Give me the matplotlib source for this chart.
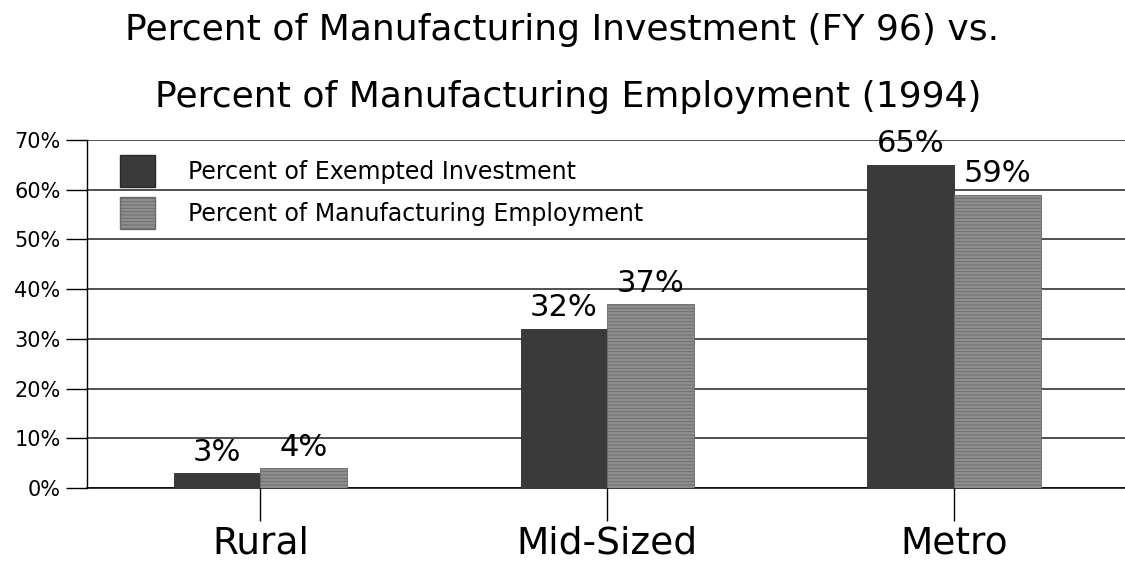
import numpy as np
import matplotlib.pyplot as plt
from matplotlib.patches import Patch

plt.rcParams['font.family'] = ['DejaVu Sans']
plt.rcParams['hatch.linewidth'] = 0.6

# data
categories = ["Rural", "Mid-Sized", "Metro"]
investment = [3, 32, 65]
employment = [4, 37, 59]
series_names = ["Percent of Exempted Investment", "Percent of Manufacturing Employment"]
yticks = [0, 10, 20, 30, 40, 50, 60, 70]

dark = "#3a3a3a"
light = "#8e8e8e"

fig = plt.figure(figsize=(11.25, 5.71), dpi=100)
ax = fig.add_axes([0.0773, 0.1454, 0.925, 0.6094])

x = np.arange(len(categories))
w = 0.25
b1 = ax.bar(x - w / 2, investment, w, color=dark, edgecolor="#2a2a2a", linewidth=0.6, zorder=3)
b2 = ax.bar(x + w / 2, employment, w, color=light, edgecolor="#6a6a6a", linewidth=0.6,
            hatch="-----", zorder=3)

for bars, vals in [(b1, investment), (b2, employment)]:
    for r, v in zip(bars, vals):
        ax.text(r.get_x() + r.get_width() / 2, v + 1.3, f"{v}%", ha="center", va="bottom",
                fontsize=22, zorder=4)

ax.set_xlim(-0.5, 2.5)
ax.set_ylim(0, 70)
ax.set_yticks(yticks)
ax.set_yticklabels([f"{t}%" for t in yticks], fontsize=15)
ax.yaxis.grid(True, color="#202020", linewidth=1.1, zorder=0)
ax.tick_params(axis="y", length=15, width=1.0, pad=4)
ax.set_xticks(x)
ax.set_xticklabels(categories, fontsize=27)
ax.tick_params(axis="x", length=24, width=1.0, pad=3, direction="out")
for s in ["top", "right"]:
    ax.spines[s].set_visible(False)
ax.spines["left"].set_linewidth(1.0)
ax.spines["bottom"].set_linewidth(1.1)

handles = [Patch(facecolor=dark, edgecolor="#2a2a2a"),
           Patch(facecolor=light, edgecolor="#6a6a6a", hatch="-----")]
ax.legend(handles, series_names, loc="upper left", bbox_to_anchor=(0.032, 0.958),
          frameon=False, fontsize=17, handlelength=1.48, handleheight=1.75,
          handletextpad=1.4, labelspacing=0.4, borderpad=0, borderaxespad=0)

fig.text(0.5, 0.930, "Percent of Manufacturing Investment (FY 96) vs.", ha="center", va="baseline", fontsize=26)
fig.text(0.505, 0.8126, "Percent of Manufacturing Employment (1994)", ha="center", va="baseline", fontsize=26)

fig.savefig("out.png", dpi=100)
